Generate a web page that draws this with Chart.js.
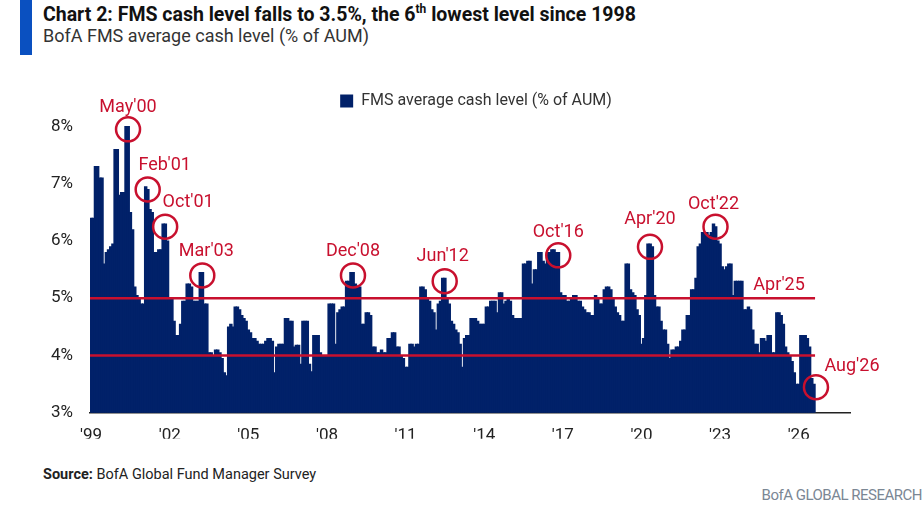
<!DOCTYPE html>
<html>
<head>
<meta charset="utf-8">
<script src="https://cdn.jsdelivr.net/npm/chart.js"></script>
<style>
  html, body { margin: 0; padding: 0; background: #fff; }
  body { width: 924px; height: 525px; position: relative; overflow: hidden; font-family: Roboto, "Noto Sans", sans-serif; }
  .accent { position: absolute; left: 20px; top: 0; width: 12px; height: 55px; background: #0a50c0; }
  .title { position: absolute; left: 43px; top: 2px; font-size: 19.5px; font-weight: 700; color: #111; white-space: nowrap; }
  .title sup { font-size: 12px; }
  .subtitle { position: absolute; left: 43px; top: 25px; font-size: 18px; color: #333; white-space: nowrap; }
  .chart-box { position: absolute; left: 0; top: 78px; width: 924px; height: 362px; }
  .source { position: absolute; left: 43px; top: 466px; font-size: 14.5px; color: #222; }
  .brand { position: absolute; right: 2px; top: 486px; font-size: 15px; color: #7b8794; letter-spacing: -0.5px; }
</style>
</head>
<body>
<div class="accent"></div>
<div class="title">Chart 2: FMS cash level falls to 3.5%, the 6<sup>th</sup> lowest level since 1998</div>
<div class="subtitle">BofA FMS average cash level (% of AUM)</div>
<div class="chart-box"><canvas id="cashChart"></canvas></div>
<div class="source"><b>Source:</b> BofA Global Fund Manager Survey</div>
<div class="brand">BofA GLOBAL RESEARCH</div>

<script>
// monthly axis runs Jan 1999 .. Dec 2027, data stops at Aug 2026
const startYear = 1999;
const endYear = 2027;
const months = [];
for (let y = startYear; y <= endYear; y++) {
  for (let m = 1; m <= 12; m++) months.push(y + '-' + String(m).padStart(2, '0'));
}

// FMS average cash level, % of AUM (one row per year)
const cashLevel = [
  6.4, 6.4, 7.3, 7.3, 7.1, 7.1, 5.6, 5.8, 5.85, 5.9, 5.95, 7.6,        // 1999
  7.6, 6.8, 6.85, 6.85, 8.0, 8.0, 6.5, 6.2, 5.2, 5.05, 5.0, 4.9,       // 2000
  4.9, 6.95, 6.9, 6.55, 6.5, 5.8, 5.8, 5.85, 5.85, 6.3, 6.3, 6.0,      // 2001
  5.0, 5.0, 4.6, 4.35, 4.35, 4.55, 4.95, 4.95, 5.25, 5.25, 5.2, 4.95,  // 2002
  4.95, 4.95, 5.45, 5.45, 4.9, 4.9, 4.05, 4.05, 4.0, 4.1, 4.1, 4.05,   // 2003
  3.95, 3.7, 3.65, 4.5, 4.55, 4.5, 4.85, 4.85, 4.8, 4.7, 4.65, 4.6,    // 2004
  4.45, 4.4, 4.3, 4.3, 4.25, 4.2, 4.2, 4.2, 4.25, 4.3, 4.3, 4.25,      // 2005
  3.7, 4.15, 4.2, 4.2, 4.2, 4.65, 4.65, 4.6, 4.6, 4.15, 4.18, 4.18,    // 2006
  3.85, 4.6, 4.6, 4.6, 3.85, 3.72, 4.35, 4.35, 4.35, 4.05, 4.0, 4.0,   // 2007
  4.0, 4.9, 4.9, 4.9, 4.2, 4.75, 4.8, 4.85, 4.85, 5.3, 5.3, 5.45,      // 2008
  5.45, 5.25, 5.2, 5.2, 4.55, 4.55, 4.75, 4.75, 4.7, 4.15, 4.15, 4.05, // 2009
  4.05, 4.1, 4.05, 4.05, 4.3, 4.3, 4.4, 4.4, 4.15, 4.15, 4.0, 3.95,    // 2010
  3.8, 3.8, 4.2, 4.2, 4.15, 4.2, 4.2, 5.2, 5.2, 5.15, 5.0, 4.95,       // 2011
  4.8, 4.75, 4.45, 4.9, 4.95, 5.35, 5.35, 5.0, 4.9, 4.6, 4.55, 4.45,   // 2012
  4.4, 4.2, 3.8, 4.3, 4.35, 4.35, 4.65, 4.65, 4.65, 4.6, 4.55, 4.55,   // 2013
  4.55, 4.85, 4.85, 4.95, 4.95, 4.95, 4.75, 5.1, 5.1, 4.9, 4.95, 5.0,  // 2014
  4.95, 4.7, 4.65, 4.65, 4.65, 4.65, 5.6, 5.6, 5.65, 5.65, 5.25, 5.5,  // 2015
  5.5, 5.8, 5.8, 5.65, 5.6, 5.8, 5.8, 5.85, 5.85, 5.8, 5.8, 5.1,       // 2016
  5.05, 5.05, 4.95, 4.95, 5.0, 5.05, 5.05, 4.95, 4.95, 4.85, 4.8, 4.75, // 2017
  4.75, 4.7, 4.7, 5.05, 5.0, 4.9, 4.9, 5.15, 5.2, 5.2, 5.15, 5.0,      // 2018
  4.85, 4.75, 4.7, 4.6, 4.6, 5.6, 5.6, 5.15, 5.1, 5.05, 4.8, 4.7,      // 2019
  4.2, 4.3, 5.05, 5.95, 5.95, 5.9, 5.05, 4.85, 4.85, 4.6, 4.45, 4.45,  // 2020
  4.2, 3.95, 4.1, 4.1, 4.15, 4.15, 4.25, 4.45, 4.45, 4.7, 4.7, 5.15,   // 2021
  5.15, 5.35, 5.9, 5.95, 6.15, 6.15, 6.15, 6.1, 6.15, 6.3, 6.25, 6.0,  // 2022
  5.95, 5.55, 5.5, 5.55, 5.6, 5.6, 5.05, 5.3, 5.3, 5.3, 5.3, 4.8,      // 2023
  4.8, 4.85, 4.8, 4.45, 4.2, 4.2, 4.05, 4.3, 4.3, 4.25, 4.35, 4.35,    // 2024
  4.05, 4.05, 4.75, 4.75, 4.7, 4.55, 4.15, 4.05, 4.0, 3.9, 3.7, 3.5,   // 2025
  3.5, 4.35, 4.35, 4.35, 4.3, 4.15, 3.6, 3.5                           // 2026 (to Aug)
];

const refLevels = [5, 4];
const yTicks = [3, 4, 5, 6, 7, 8];

const tickMonths = ['1999-01', '2002-01', '2005-01', '2008-01', '2011-01', '2014-01', '2017-01', '2020-01', '2023-01', '2026-01'];
const tickLabels = ["'99", "'02", "'05", "'08", "'11", "'14", "'17", "'20", "'23", "'26"];

const calloutMonths = ['2000-05', '2001-02', '2001-10', '2003-03', '2008-12', '2012-06', '2016-10', '2020-04', '2022-10', '2026-08'];
const calloutLabels = ["May'00", "Feb'01", "Oct'01", "Mar'03", "Dec'08", "Jun'12", "Oct'16", "Apr'20", "Oct'22", "Aug'26"];
const noteMonth = '2025-04';
const noteLabel = "Apr'25";

// label offsets from circle centre (layout only)
const calloutOffsets = [[0, -22], [17, -24], [23, -24], [4, -24], [0, -24], [-2, -25], [0, -23], [0, -27], [-2, -22], [36, -21]];

const NAVY = '#012169';
const RED = '#c8102e';
const FONT = 'Roboto, "Noto Sans", sans-serif';

Chart.defaults.font.family = FONT;

// nudge the legend so it sits over the middle of the plot, as in the original
const legendNudge = {
  id: 'legendNudge',
  afterLayout(chart) {
    const lg = chart.legend;
    const area = chart.chartArea;
    const dx = (area.left + area.right) / 2 + 6 - (lg.left + lg.right) / 2;
    lg.left += dx;
    lg.right += dx;
    lg.top += 7;
    lg.bottom += 7;
  }
};

const overlayPlugin = {
  id: 'overlay',
  afterDatasetsDraw(chart) {
    const { ctx, scales: { x, y } } = chart;
    const step = x.getPixelForValue(1) - x.getPixelForValue(0);
    const x0 = x.getPixelForValue(0) - step / 2;
    const x1 = x.getPixelForValue(cashLevel.length - 1) + step / 2;
    ctx.save();
    ctx.strokeStyle = RED;
    ctx.lineWidth = 2.5;
    refLevels.forEach(v => {
      const py = y.getPixelForValue(v);
      ctx.beginPath();
      ctx.moveTo(x0, py);
      ctx.lineTo(x1, py);
      ctx.stroke();
    });

    ctx.fillStyle = RED;
    ctx.font = '18px ' + FONT;
    ctx.textAlign = 'center';
    ctx.textBaseline = 'middle';
    calloutMonths.forEach((m, i) => {
      const idx = months.indexOf(m);
      const cx = x.getPixelForValue(idx) + 2;
      const cy = y.getPixelForValue(cashLevel[idx]) + 3;
      ctx.beginPath();
      ctx.arc(cx, cy, 12, 0, Math.PI * 2);
      ctx.stroke();
      const [dx, dy] = calloutOffsets[i];
      ctx.fillText(calloutLabels[i], cx + dx, cy + dy);
    });

    const ni = months.indexOf(noteMonth);
    ctx.fillText(noteLabel, x.getPixelForValue(ni), y.getPixelForValue(refLevels[0]) - 13);
    ctx.restore();
  }
};

new Chart(document.getElementById('cashChart'), {
  type: 'bar',
  data: {
    labels: months,
    datasets: [{
      label: 'FMS average cash level (% of AUM)',
      data: cashLevel,
      backgroundColor: NAVY,
      borderWidth: 0,
      barThickness: 2.8,   // a touch wider than one month so neighbours overlap, no seams
    }]
  },
  options: {
    responsive: true,
    maintainAspectRatio: false,
    animation: false,
    layout: { padding: { left: 0, right: 74, top: 0, bottom: 0 } },
    plugins: {
      legend: {
        position: 'top',
        labels: { boxWidth: 13, boxHeight: 13, padding: 8, color: '#333', font: { size: 16 } }
      },
      tooltip: { enabled: false }
    },
    scales: {
      x: {
        z: 1,
        grid: { display: false, drawTicks: false },
        border: { display: true, color: '#222', width: 1.5 },
        ticks: {
          autoSkip: false,
          maxRotation: 0,
          minRotation: 0,
          padding: 13,
          color: '#222',
          font: { size: 17 },
          callback(v) {
            const k = tickMonths.indexOf(months[v]);
            return k >= 0 ? tickLabels[k] : '';
          }
        },
        afterFit(s) { s.height = 26; }
      },
      y: {
        min: 3,
        max: 8.25,
        grid: { display: false, drawTicks: false },
        border: { display: false },
        afterBuildTicks(s) { s.ticks = yTicks.map(v => ({ value: v })); },
        ticks: {
          padding: 17,
          color: '#222',
          font: { size: 17 },
          callback: v => v + '%'
        },
        afterFit(s) { s.width = 90; }
      }
    }
  },
  plugins: [legendNudge, overlayPlugin]
});
</script>
</body>
</html>
